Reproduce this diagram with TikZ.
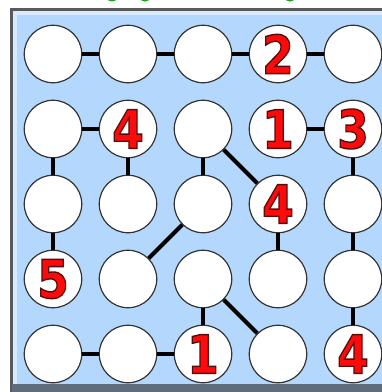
\documentclass[tikz,border=0pt]{standalone}
\usepackage{fontspec}
\newfontfamily\digitfont{DejaVu Sans}[BoldFont={DejaVu Sans Bold}]
\definecolor{panelfill}{HTML}{B4D8FD}
\definecolor{panelbevel}{HTML}{D6EBFF}
\definecolor{paneledge}{HTML}{5A5A5A}
\definecolor{panelbottom}{HTML}{5E6C7C}
\definecolor{titlegreen}{HTML}{1E9E1E}
\definecolor{digitred}{HTML}{FF0A0A}
\newcommand\outlined[1]{\special{pdf:literal direct 2 Tr 1.4 w 0.35 0.04 0.04 RG}#1\special{pdf:literal direct 0 Tr}}
\begin{document}
\begin{tikzpicture}[x=1pt,y=-1pt,
  cell/.style={circle, draw=black!80, line width=1.2pt, fill=white,
    minimum size=57.5pt, inner sep=0pt},
  digittext/.style={text=digitred, inner sep=0pt, xscale=0.86,
    font=\digitfont\bfseries\fontsize{53}{53}\selectfont},
  link/.style={line width=4pt, black}]
\useasboundingbox (0,0) rectangle (382,392);
\clip (0,0) rectangle (382,392);
% title fragments (cut off)
\fill[titlegreen] (112,-2) ellipse (5pt and 3.5pt);
\fill[titlegreen] (145,-2) ellipse (5pt and 3.5pt);
\fill[titlegreen] (290,-2) ellipse (5pt and 3.5pt);
% panel
\fill[paneledge] (10,8) rectangle (400,400);
\fill[panelbevel] (13,11) rectangle (400,400);
\fill[panelfill] (17,15) rectangle (400,400);
\fill[panelbottom] (12,384) rectangle (400,400);
% cells
\foreach \r in {1,...,5}{
  \foreach \c in {1,...,5}{
    \node[cell] (n\r\c) at ({53+75*(\c-1)},{54+75*(\r-1)}) {};
  }
}
% links
\draw[link] (n11) -- (n12);
\draw[link] (n12) -- (n13);
\draw[link] (n13) -- (n14);
\draw[link] (n14) -- (n15);
\draw[link] (n21) -- (n22);
\draw[link] (n24) -- (n25);
\draw[link] (n21) -- (n31);
\draw[link] (n22) -- (n32);
\draw[link] (n23) -- (n33);
\draw[link] (n25) -- (n35);
\draw[link] (n23) -- (n34);
\draw[link] (n31) -- (n41);
\draw[link] (n33) -- (n42);
\draw[link] (n34) -- (n44);
\draw[link] (n35) -- (n45);
\draw[link] (n43) -- (n53);
\draw[link] (n43) -- (n54);
\draw[link] (n45) -- (n55);
\draw[link] (n51) -- (n52);
\draw[link] (n52) -- (n53);
% numbers
\node[digittext] at (n14.center) {\outlined{2}};
\node[digittext] at (n22.center) {\outlined{4}};
\node[digittext] at (n24.center) {\outlined{1}};
\node[digittext] at (n25.center) {\outlined{3}};
\node[digittext] at (n34.center) {\outlined{4}};
\node[digittext] at (n41.center) {\outlined{5}};
\node[digittext] at (n53.center) {\outlined{1}};
\node[digittext] at (n55.center) {\outlined{4}};
\end{tikzpicture}
\end{document}
